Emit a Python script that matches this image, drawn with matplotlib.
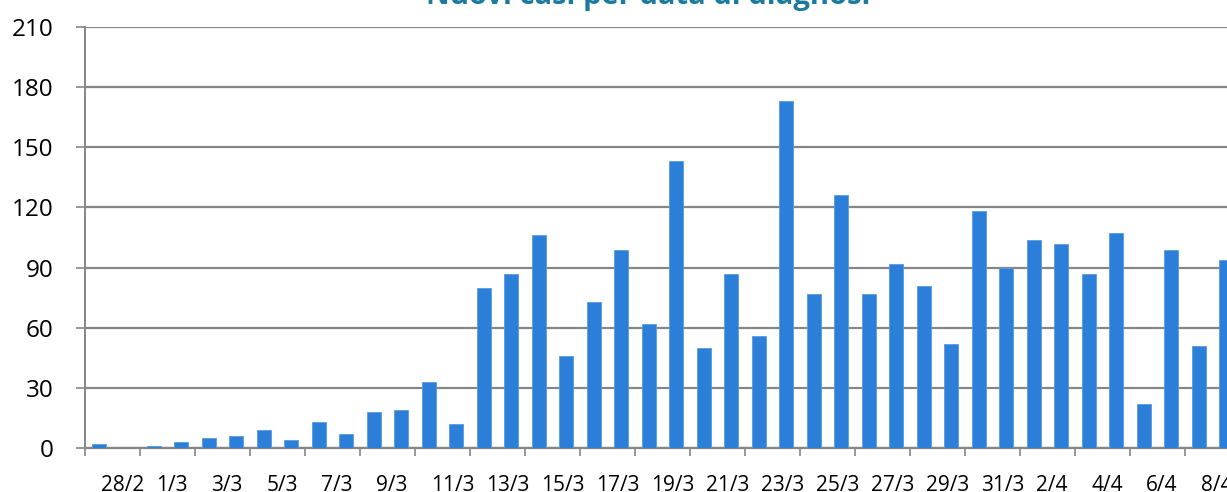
import matplotlib
matplotlib.use('Agg')
import matplotlib.pyplot as plt

plt.rcParams['font.family'] = ['Open Sans', 'DejaVu Sans']

# daily new cases by date of diagnosis
dates = ['27/2', '28/2', '29/2', '1/3', '2/3', '3/3', '4/3', '5/3', '6/3', '7/3',
         '8/3', '9/3', '10/3', '11/3', '12/3', '13/3', '14/3', '15/3', '16/3', '17/3',
         '18/3', '19/3', '20/3', '21/3', '22/3', '23/3', '24/3', '25/3', '26/3', '27/3',
         '28/3', '29/3', '30/3', '31/3', '1/4', '2/4', '3/4', '4/4', '5/4', '6/4',
         '7/4', '8/4']
cases = [2, 0, 1, 3, 5, 6, 9, 4, 13, 7,
         18, 19, 33, 12, 80, 87, 106, 46, 73, 99,
         62, 143, 50, 87, 56, 173, 77, 126, 77, 92,
         81, 52, 118, 90, 104, 102, 87, 107, 22, 99,
         51, 94]
yticks = [0, 30, 60, 90, 120, 150, 180, 210]

W, H = 1227, 492
fig = plt.figure(figsize=(W / 100, H / 100), dpi=100)
ax = fig.add_axes([85 / W, 44 / H, (W - 85) / W, 421 / H])

grey = '#868686'
x = list(range(len(dates)))
ax.bar(x, cases, width=0.5, color='#2b7fd8', edgecolor='#5a9be0', linewidth=0.6, zorder=3)

ax.set_ylim(0, 210)
ax.set_xlim(-0.5, 41.03)
ax.set_yticks(yticks)
ax.grid(axis='y', color=grey, linewidth=1.6, zorder=0)
ax.tick_params(axis='y', length=6.5, width=1.2, color=grey, pad=16, labelsize=17.5)

ax.set_xticks([])
ax.set_xticks([i - 0.5 for i in range(0, len(dates), 2)], minor=True)
ax.tick_params(axis='x', which='minor', length=6, width=1.2, color=grey)

for s in ['top', 'right']:
    ax.spines[s].set_visible(False)
ax.spines['left'].set_color(grey)
ax.spines['left'].set_linewidth(1.4)
ax.spines['bottom'].set_color(grey)
ax.spines['bottom'].set_linewidth(1.6)

for i in range(1, len(dates), 2):
    ax.text(i - 0.91, -13.5, dates[i], ha='left', va='top', fontsize=15,
            transform=ax.transData, clip_on=False)

fig.text(648 / W, 1 - 4 / H, 'Nuovi casi per data di diagnosi', ha='center',
         va='baseline', fontsize=21, fontweight='bold', color='#1c7a9c')

fig.savefig('out.png', dpi=100)
